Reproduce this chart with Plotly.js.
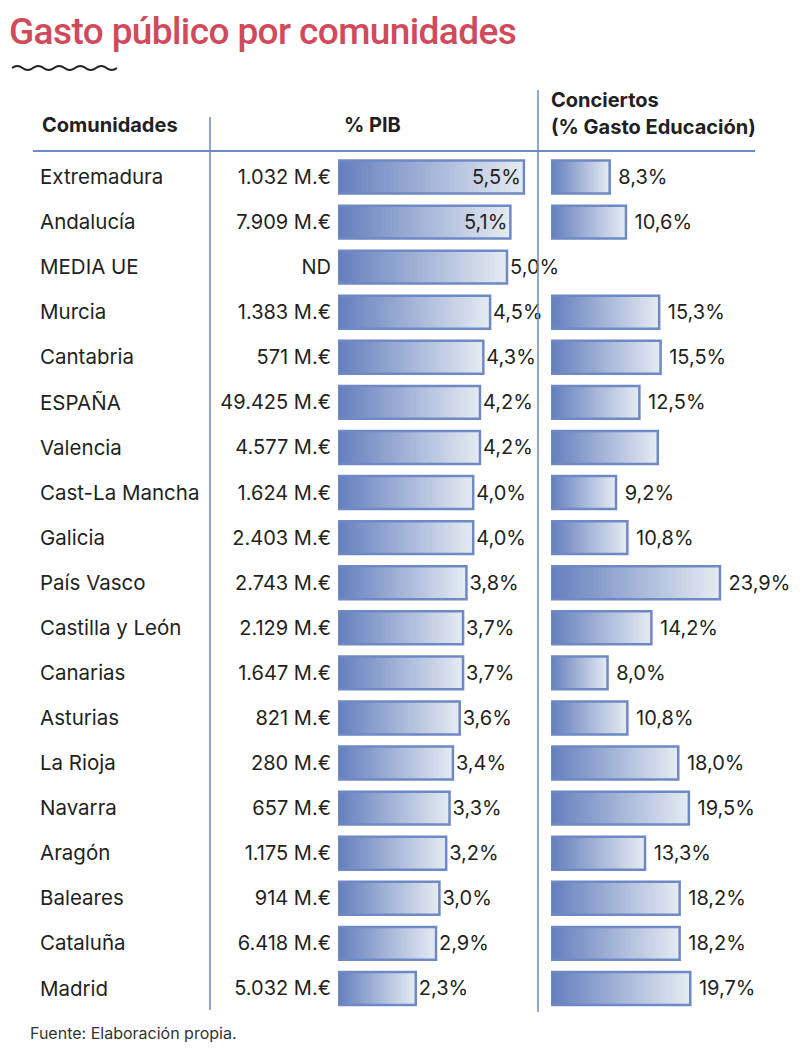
<!DOCTYPE html>
<html>
<head>
<meta charset="utf-8">
<script src="https://cdn.plot.ly/plotly-3.0.1.min.js"></script>
<style>
html,body{margin:0;padding:0;background:#fff;}
#chart{width:800px;height:1051px;}
#chart .gtitle{letter-spacing:-0.6px;}
</style>
</head>
<body>
<div id="chart"></div>
<script>
// ---------- DATA ----------
const comunidades = ["Extremadura","Andalucía","MEDIA UE","Murcia","Cantabria","ESPAÑA","Valencia","Cast-La Mancha","Galicia","País Vasco","Castilla y León","Canarias","Asturias","La Rioja","Navarra","Aragón","Baleares","Cataluña","Madrid"];
const gasto = ["1.032 M.€","7.909 M.€","ND","1.383 M.€","571 M.€","49.425 M.€","4.577 M.€","1.624 M.€","2.403 M.€","2.743 M.€","2.129 M.€","1.647 M.€","821 M.€","280 M.€","657 M.€","1.175 M.€","914 M.€","6.418 M.€","5.032 M.€"];
const pib = [5.5,5.1,5.0,4.5,4.3,4.2,4.2,4.0,4.0,3.8,3.7,3.7,3.6,3.4,3.3,3.2,3.0,2.9,2.3];
const conciertos = [8.3,10.6,null,15.3,15.5,12.5,15.1,9.2,10.8,23.9,14.2,8.0,10.8,18.0,19.5,13.3,18.2,18.2,19.7];
const conciertosShowLabel = [true,true,false,true,true,true,false,true,true,true,true,true,true,true,true,true,true,true,true];
const pibInside = [true,true,false,false,false,false,false,false,false,false,false,false,false,false,false,false,false,false,false];

// ---------- STYLE ----------
const W = 800, H = 1051;
const TXT = '#231f20';
const BLUE = '#6f89c4';
const FONT = 'Inter, Roboto, sans-serif';
const DARK = [102,128,190], LIGHT = [228,234,242];
const N = 40;
const ROW0 = 177, STEP = 45.08, TEXT_SHIFT = 2;
const fmt = v => v.toFixed(1).replace('.', ',') + '%';
const px = x => x / W;
const py = y => 1 - y / H;

const traces = [];
// gradient fill: each layer starts further right and runs to the bar's end, lighter on top
function gradientTraces(vals, xa) {
  for (let i = 0; i < N; i++) {
    const t = i / (N - 1);
    const c = DARK.map((d, k) => Math.round(d + (LIGHT[k] - d) * t));
    const col = `rgb(${c[0]},${c[1]},${c[2]})`;
    traces.push({
      type: 'bar', orientation: 'h', xaxis: xa, yaxis: 'y',
      y: comunidades,
      x: vals.map(v => v == null ? null : v * (N - i) / N),
      base: vals.map(v => v == null ? null : v * i / N),
      width: 0.73,
      marker: {color: col, line: {width: 0}},
      hoverinfo: 'skip', showlegend: false
    });
  }
}
gradientTraces(pib, 'x');
gradientTraces(conciertos, 'x2');

// outlines + value labels
traces.push({
  type: 'bar', orientation: 'h', xaxis: 'x', yaxis: 'y',
  y: comunidades, x: pib, base: 0, width: 0.73,
  marker: {color: 'rgba(0,0,0,0)', line: {color: BLUE, width: 2.5}},
  text: pib.map(fmt),
  textposition: pibInside.map(b => b ? 'inside' : 'outside'),
  insidetextanchor: 'end',
  insidetextfont: {family: FONT, size: 20, color: TXT},
  outsidetextfont: {family: FONT, size: 20, color: TXT},
  cliponaxis: false, constraintext: 'none',
  hoverinfo: 'skip', showlegend: false
});
traces.push({
  type: 'bar', orientation: 'h', xaxis: 'x2', yaxis: 'y',
  y: comunidades, x: conciertos, base: 0, width: 0.73,
  marker: {color: 'rgba(0,0,0,0)', line: {color: BLUE, width: 2.5}},
  text: conciertos.map((v, i) => (v == null || !conciertosShowLabel[i]) ? '' : ' ' + fmt(v)),
  textposition: 'outside',
  outsidetextfont: {family: FONT, size: 20, color: TXT},
  cliponaxis: false, constraintext: 'none',
  hoverinfo: 'skip', showlegend: false
});
// community names
traces.push({
  type: 'scatter', mode: 'text', xaxis: 'x3', yaxis: 'y2',
  y: comunidades, x: comunidades.map(() => 40),
  text: comunidades, textposition: 'middle right',
  textfont: {family: FONT, size: 20.5, color: TXT},
  cliponaxis: false, hoverinfo: 'skip', showlegend: false
});
// amounts
traces.push({
  type: 'scatter', mode: 'text', xaxis: 'x3', yaxis: 'y2',
  y: comunidades, x: comunidades.map(() => 331),
  text: gasto, textposition: 'middle left',
  textfont: {family: FONT, size: 20, color: TXT},
  cliponaxis: false, hoverinfo: 'skip', showlegend: false
});

// wavy decoration
let wave = `M ${px(12)},${py(68)}`;
for (let k = 0; k < 5; k++) {
  const x0 = 12 + k * 21;
  wave += ` Q ${px(x0 + 5.25)},${py(64)} ${px(x0 + 10.5)},${py(68)}`;
  wave += ` Q ${px(x0 + 15.75)},${py(72)} ${px(x0 + 21)},${py(68)}`;
}

const pibPxPerUnit = 33.8, conPxPerUnit = 7.07;
const r0 = ROW0 + TEXT_SHIFT;
const layout = {
  width: W, height: H,
  margin: {l: 0, r: 0, t: 0, b: 0},
  paper_bgcolor: '#fff', plot_bgcolor: 'rgba(0,0,0,0)',
  barmode: 'overlay', showlegend: false,
  title: {text: 'Gasto público por comunidades', x: px(9), xanchor: 'left', y: py(31), yanchor: 'middle',
          font: {family: 'Roboto, Inter, sans-serif', size: 37, weight: 500, color: '#d14a5b'}},
  xaxis: {domain: [px(338), px(540)], range: [0, (540 - 338) / pibPxPerUnit], visible: false, fixedrange: true},
  xaxis2: {domain: [px(551), 1], range: [0, (800 - 551) / conPxPerUnit], visible: false, fixedrange: true},
  xaxis3: {domain: [0, 1], range: [0, W], visible: false, fixedrange: true},
  yaxis: {type: 'category', categoryarray: comunidades, domain: [0, 1],
          range: [(H - ROW0) / STEP, -ROW0 / STEP], visible: false, fixedrange: true},
  yaxis2: {type: 'category', categoryarray: comunidades, overlaying: 'y', anchor: 'x3',
          range: [(H - r0) / STEP, -r0 / STEP], visible: false, fixedrange: true},
  shapes: [
    {type: 'line', xref: 'paper', yref: 'paper', x0: px(33), x1: px(755), y0: py(151), y1: py(151), line: {color: BLUE, width: 2}},
    {type: 'line', xref: 'paper', yref: 'paper', x0: px(210), x1: px(210), y0: py(117), y1: py(1010), line: {color: BLUE, width: 1.5}},
    {type: 'line', xref: 'paper', yref: 'paper', x0: px(538), x1: px(538), y0: py(90), y1: py(1012), line: {color: BLUE, width: 1.5}},
    {type: 'path', xref: 'paper', yref: 'paper', path: wave, line: {color: '#222', width: 2}}
  ],
  annotations: [
    {text: 'Comunidades', xref: 'paper', yref: 'paper', x: px(40), y: py(125), xanchor: 'left', yanchor: 'middle', showarrow: false,
     font: {family: FONT, size: 20, weight: 700, color: TXT}},
    {text: '% PIB', xref: 'paper', yref: 'paper', x: px(372), y: py(125), xanchor: 'center', yanchor: 'middle', showarrow: false,
     font: {family: FONT, size: 20, weight: 700, color: TXT}},
    {text: 'Conciertos', xref: 'paper', yref: 'paper', x: px(549), y: py(100), xanchor: 'left', yanchor: 'middle', showarrow: false,
     font: {family: FONT, size: 20, weight: 700, color: TXT}},
    {text: '(% Gasto Educación)', xref: 'paper', yref: 'paper', x: px(549), y: py(127), xanchor: 'left', yanchor: 'middle', showarrow: false,
     font: {family: FONT, size: 20, weight: 700, color: TXT}},
    {text: 'Fuente: Elaboración propia.', xref: 'paper', yref: 'paper', x: px(28), y: py(1033), xanchor: 'left', yanchor: 'middle', showarrow: false,
     font: {family: FONT, size: 16, color: '#333'}}
  ]
};

Plotly.newPlot('chart', traces, layout, {staticPlot: true, displayModeBar: false});
</script>
</body>
</html>
